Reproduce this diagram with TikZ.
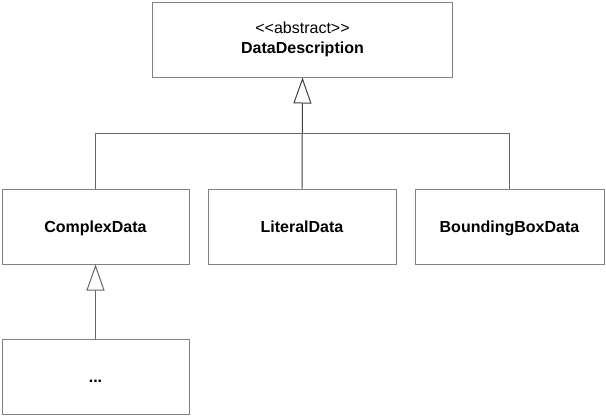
\documentclass[tikz,border=0pt]{standalone}
\usepackage{fontspec}
\newfontfamily\umlfont{Liberation Sans}
\usetikzlibrary{arrows.meta}
\tikzset{
	classbox/.style={shape=rectangle,draw=black!50,line width=1pt,minimum height=75pt,align=center,font=\umlfont\fontsize{16}{20}\selectfont},
	plainbox/.style={classbox,text height=12.5pt,text depth=1.5pt},
	inherit/.style={-{Triangle[open,length=26pt,width=18pt]},line width=1pt,draw=black!75}
}
\begin{document}
\begin{tikzpicture}[x=1pt,y=-1pt]
	\useasboundingbox (0,0) rectangle (606,418);
	\node (dd) [classbox,minimum width=300pt] at (302.5,39.5) {<<abstract>>\\\textbf{DataDescription}};
	\node (cd) [plainbox,minimum width=187pt] at (95.5,226.5) {\textbf{ComplexData}};
	\node (ld) [plainbox,minimum width=188pt] at (302,226.5) {\textbf{LiteralData}};
	\node (bb) [plainbox,minimum width=189pt] at (509.5,226.5) {\textbf{BoundingBoxData}};
	\node (etc) [plainbox,minimum width=187pt] at (95.5,376.5) {\textbf{...}};
	\coordinate (bus) at (302,133);
	\draw [inherit] (ld.north) -- (dd.south);
	\draw [line width=1pt,draw=black!60] (cd.north) |- (bus);
	\draw [line width=1pt,draw=black!60] (bb.north) |- (bus);
	\draw [inherit,draw=black!60] (etc.north) -- (cd.south);
\end{tikzpicture}
\end{document}
